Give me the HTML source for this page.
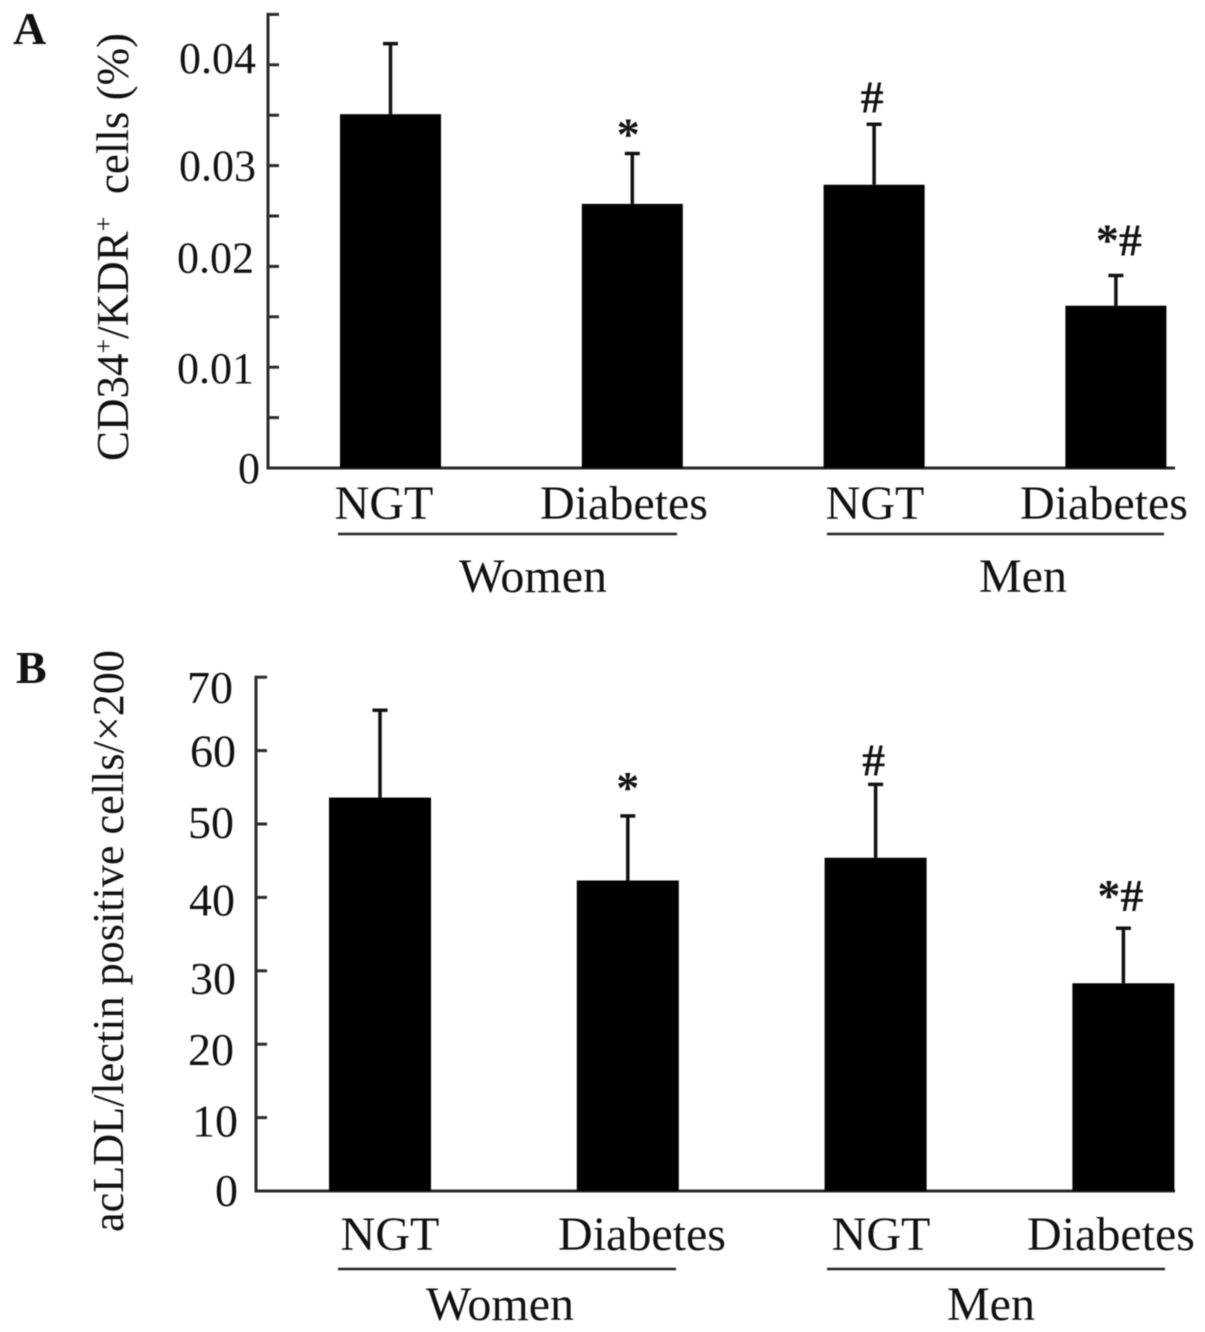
<!DOCTYPE html>
<html>
<head>
<meta charset="utf-8">
<title>CD34+/KDR+ and acLDL/lectin positive cells</title>
<style>
html,body{margin:0;padding:0;background:#fff;width:1205px;height:1332px;overflow:hidden}
svg{display:block;filter:blur(0.5px)}
text{font-family:"Liberation Serif",serif;fill:#111}
</style>
</head>
<body>
<svg id="figure" width="1205" height="1332" viewBox="0 0 1205 1332" xmlns="http://www.w3.org/2000/svg">
  <text x="13" y="44" font-size="46" font-weight="bold">A</text>
  <text x="16" y="683" font-size="46" font-weight="bold">B</text>
  <text transform="translate(128,461) rotate(-90)" font-size="45" xml:space="preserve">CD34<tspan dy="-16" font-size="26">+</tspan><tspan dy="16">/KDR</tspan><tspan dy="-16" font-size="26">+</tspan><tspan dy="16">  cells (%)</tspan></text>
  <text transform="translate(123,1232) rotate(-90)" font-size="44" textLength="582" lengthAdjust="spacingAndGlyphs">acLDL/lectin positive cells/×200</text>

  <text x="533" y="592" font-size="48" text-anchor="middle">Women</text>
  <text x="1023" y="592" font-size="48" text-anchor="middle">Men</text>
  <line x1="338" x2="677" y1="534" y2="534" stroke="#222" stroke-width="2.5"/>
  <line x1="827" x2="1164" y1="534" y2="534" stroke="#222" stroke-width="2.5"/>

  <text x="500" y="1320" font-size="48" text-anchor="middle">Women</text>
  <text x="991" y="1320" font-size="48" text-anchor="middle">Men</text>
  <line x1="338" x2="676" y1="1269" y2="1269" stroke="#222" stroke-width="2.5"/>
  <line x1="827" x2="1165" y1="1269" y2="1269" stroke="#222" stroke-width="2.5"/>
</svg>
<script>
// Chart data
var categories = ["NGT", "Diabetes", "NGT", "Diabetes"];
var significance = ["", "*", "#", "*#"];

var panelAValues = [0.0351, 0.0262, 0.0281, 0.0161];
var panelAErrors = [0.007, 0.005, 0.006, 0.003];
var panelATicks = [0, 0.005, 0.01, 0.015, 0.02, 0.025, 0.03, 0.035, 0.04, 0.045];
var panelATickLabels = ["0", "", "0.01", "", "0.02", "", "0.03", "", "0.04", ""];

var panelBValues = [53.6, 42.3, 45.4, 28.3];
var panelBErrors = [11.9, 8.8, 10, 7.5];
var panelBTicks = [0, 10, 20, 30, 40, 50, 60, 70];
var panelBTickLabels = ["0", "10", "20", "30", "40", "50", "60", "70"];

var NS = "http://www.w3.org/2000/svg";
var svg = document.getElementById("figure");

function create(tag, attrs) {
  var el = document.createElementNS(NS, tag);
  for (var k in attrs) { el.setAttribute(k, attrs[k]); }
  svg.appendChild(el);
  return el;
}

function drawPanel(p, values, errors, ticks, tickLabels) {
  function y(v) { return p.y0 - v * p.scale; }
  function x(i) { return p.x0 + i * p.step; }

  var axisY = create("line", {x1: p.axisX, x2: p.axisX, y1: y(ticks[ticks.length - 1]) - 1.5, y2: p.y0 + 1.5, stroke: "#2a2a2a", "stroke-width": 3});
  
  

  var axisX = create("line", {x1: p.axisX, x2: p.axisEnd, y1: p.y0, y2: p.y0, stroke: "#2a2a2a", "stroke-width": 3});
  
  

  ticks.forEach(function (t, i) {
    if (t !== 0) {
      var tick = create("line", {x1: p.axisX, x2: p.axisX + p.tickLen, y1: y(t), y2: y(t), stroke: "#2a2a2a", "stroke-width": 3});
      
      
    }
    if (tickLabels[i]) {
      var label = create("text", {x: p.labelRight[i], y: y(t) + p.labelDy[i], "font-size": p.tickFont, "text-anchor": "end"});
      label.textContent = tickLabels[i];
      
      
    }
  });

  values.forEach(function (v, i) {
    var cx = x(i);

    var err = create("line", {x1: cx, x2: cx, y1: y(v), y2: y(v + errors[i]), stroke: "#111", "stroke-width": 3.5});
    
    

    var cap = create("line", {x1: cx - 7.5, x2: cx + 7.5, y1: y(v + errors[i]), y2: y(v + errors[i]), stroke: "#111", "stroke-width": 3.5});
    
    

    var bar = create("rect", {x: cx - p.barW / 2, y: y(v), width: p.barW, height: p.y0 - y(v), fill: "#000"});
    
    

    var cat = create("text", {x: p.catX[i], y: p.catY, "font-size": 48, "text-anchor": "middle"});
    cat.textContent = categories[i];
    
    

    if (significance[i]) {
      var mark = create("text", {x: cx + p.markDx[i], y: y(v + errors[i]) - p.markGap[i], "font-size": 46, "text-anchor": "middle", "font-weight": "bold"});
      mark.textContent = significance[i];
      
      
    }
  });
}

drawPanel({
  id: "panel-a", axisX: 268, axisEnd: 1175, y0: 468, scale: 10080, x0: 390.5, step: 241.8, barW: 101,
  tickLen: 11, tickFont: 44,
  labelRight: [260, 0, 254, 0, 254, 0, 256, 0, 256, 0],
  labelDy: [15, 0, 16, 0, 6, 0, 15, 0, 8, 0],
  catX: [384, 624, 875, 1104], catY: 519, markGap: [0, 4, 12, 20], markDx: [0, -4, -2, 3]
}, panelAValues, panelAErrors, panelATicks, panelATickLabels);

drawPanel({
  id: "panel-b", axisX: 256, axisEnd: 1175, y0: 1191, scale: 7.34, x0: 380, step: 247.8, barW: 102,
  tickLen: 11, tickFont: 46,
  labelRight: [238, 238, 234, 236, 235, 234, 236, 233],
  labelDy: [15, 19, 21, 23, 18, 14, 16, 26],
  catX: [390, 642, 881, 1111], catY: 1250, markGap: [0, 13, 9, 17], markDx: [0, 0, -2, -3]
}, panelBValues, panelBErrors, panelBTicks, panelBTickLabels);
</script>
</body>
</html>
